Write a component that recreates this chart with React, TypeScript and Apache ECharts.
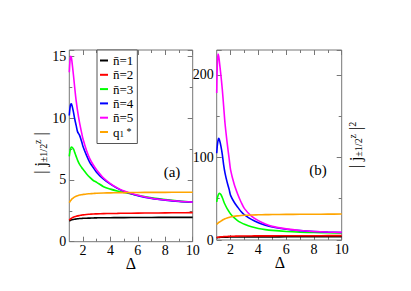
import React, { useEffect, useRef } from "react";
import * as echarts from "echarts";

const DELTA = [1, 1.05, 1.1, 1.15, 1.2, 1.3, 1.4, 1.5, 1.6, 1.75, 1.9, 2, 2.25, 2.5, 2.75, 3, 3.5, 4, 4.5, 5, 6, 7, 8, 9, 10];

const NAMES = ["n\u0304=1", "n\u0304=2", "n\u0304=3", "n\u0304=4", "n\u0304=5", "q1*"];
const COLORS = ["#000000", "#ff0000", "#00ff00", "#0000ff", "#ff00ff", "#ffa500"];

// panel (a): |j^z_{±1/2}|
const A_N1 = [1.68, 1.71, 1.74, 1.76, 1.78, 1.8, 1.82, 1.84, 1.85, 1.87, 1.88, 1.89, 1.9, 1.91, 1.92, 1.93, 1.94, 1.94, 1.95, 1.95, 1.96, 1.96, 1.97, 1.97, 1.97];
const A_N2 = [1.74, 1.8, 1.85, 1.89, 1.93, 1.98, 2.02, 2.06, 2.09, 2.12, 2.15, 2.17, 2.2, 2.22, 2.24, 2.25, 2.27, 2.28, 2.29, 2.3, 2.31, 2.32, 2.33, 2.34, 2.35];
const A_N3 = [6.9, 7.3, 7.55, 7.65, 7.65, 7.5, 7.2, 6.9, 6.6, 6.25, 6.0, 5.85, 5.5, 5.2, 4.95, 4.8, 4.45, 4.25, 4.1, 3.98, 3.75, 3.55, 3.4, 3.28, 3.2];
const A_N4 = [10.2, 10.8, 11.1, 11.15, 11.0, 10.5, 9.9, 9.4, 8.9, 8.6, 8.1, 7.7, 7.0, 6.4, 6.0, 5.6, 5.05, 4.65, 4.32, 4.05, 3.72, 3.5, 3.36, 3.26, 3.2];
const A_N5 = [13.7, 14.6, 15.0, 14.9, 14.5, 13.5, 12.4, 11.4, 10.6, 9.6, 8.8, 8.3, 7.4, 6.7, 6.2, 5.8, 5.15, 4.7, 4.35, 4.1, 3.75, 3.52, 3.37, 3.27, 3.2];
const A_Q1 = [3.15, 3.25, 3.33, 3.4, 3.46, 3.55, 3.62, 3.68, 3.72, 3.77, 3.8, 3.82, 3.86, 3.88, 3.9, 3.92, 3.94, 3.95, 3.96, 3.97, 3.98, 3.99, 3.99, 4.0, 4.0];

// panel (b): |j^z_{±1/2}|^2
const B_N1 = [2.8, 2.9, 3.0, 3.1, 3.15, 3.25, 3.3, 3.4, 3.45, 3.5, 3.55, 3.55, 3.6, 3.65, 3.7, 3.7, 3.75, 3.75, 3.8, 3.8, 3.85, 3.85, 3.9, 3.9, 3.9];
const B_N2 = [2.95, 3.15, 3.35, 3.5, 3.6, 3.8, 3.95, 4.1, 4.2, 4.3, 4.4, 4.5, 4.6, 4.7, 4.8, 4.85, 4.9, 5.0, 5.0, 5.05, 5.1, 5.15, 5.2, 5.25, 5.3];
const B_N3 = [46, 51, 54, 55.8, 56.4, 55, 51.5, 47, 43, 38, 34, 31.5, 27, 23.5, 21, 19, 16, 14, 12.6, 11.6, 10.3, 9.5, 9.0, 8.7, 8.5];
const B_N4 = [105, 115, 121, 123, 121, 114, 104, 91, 81, 70, 61, 54, 46, 40, 34.5, 30.5, 25, 21, 18, 15.8, 13, 11.3, 10.2, 9.5, 9.1];
const B_N5 = [178, 215, 225, 222, 215, 200, 183, 162, 141, 118, 98, 85, 68, 56, 46, 38, 29, 23.5, 19.5, 16.5, 13.5, 11.5, 10.3, 9.6, 9.2];
const B_Q1 = [19, 19.8, 20.5, 21.2, 21.8, 22.9, 23.9, 24.8, 25.6, 26.6, 27.4, 27.9, 28.7, 29.2, 29.6, 29.9, 30.3, 30.5, 30.7, 30.8, 31, 31.1, 31.2, 31.3, 31.4];

const X_MAJOR = [2, 4, 6, 8, 10];
const X_MINOR = [3, 5, 7, 9];

const FONT = "Liberation Serif";
const GRAY = "#777777";

const A_SERIES = [A_N1, A_N2, A_N3, A_N4, A_N5, A_Q1];
const B_SERIES = [B_N1, B_N2, B_N3, B_N4, B_N5, B_Q1];

function xAxesFor(g: number) {
  const base = {
    gridIndex: g,
    type: "value",
    min: 1,
    max: 10,
    axisLine: { show: false },
    splitLine: { show: false },
  };
  return [
    {
      ...base,
      position: "bottom",
      axisTick: { inside: true, length: 5, customValues: X_MAJOR, lineStyle: { color: GRAY } },
      axisLabel: { customValues: X_MAJOR, fontFamily: FONT, fontSize: 14, color: "#000", margin: 2 },
    },
    {
      ...base,
      position: "bottom",
      axisTick: { inside: true, length: 3, customValues: X_MINOR, lineStyle: { color: GRAY } },
      axisLabel: { show: false },
    },
    {
      ...base,
      position: "top",
      axisTick: { inside: true, length: 5, customValues: X_MAJOR, lineStyle: { color: GRAY } },
      axisLabel: { show: false },
    },
    {
      ...base,
      position: "top",
      axisTick: { inside: true, length: 3, customValues: X_MINOR, lineStyle: { color: GRAY } },
      axisLabel: { show: false },
    },
  ];
}

function yAxesFor(g: number, max: number, interval: number) {
  const base = {
    gridIndex: g,
    type: "value",
    min: 0,
    max,
    interval,
    axisLine: { show: false },
    splitLine: { show: false },
    axisTick: { inside: true, length: 5, lineStyle: { color: GRAY } },
    minorTick: { show: true, splitNumber: 2, length: 3, lineStyle: { color: GRAY } },
  };
  return [
    {
      ...base,
      position: "left",
      axisLabel: {
        fontFamily: FONT,
        fontSize: 14,
        color: "#000",
        margin: 3,
        showMaxLabel: false,
      },
    },
    { ...base, position: "right", axisLabel: { show: false } },
  ];
}

export default function App() {
  const ref = useRef<HTMLDivElement>(null);
  useEffect(() => {
    if (!ref.current) return;
    const chart = echarts.init(ref.current, undefined, { renderer: "svg" });
    const series: any[] = [];
    [A_SERIES, B_SERIES].forEach((set, g) => {
      set.forEach((vals, i) => {
        series.push({
          name: NAMES[i],
          type: "line",
          xAxisIndex: g * 4,
          yAxisIndex: g * 2,
          data: DELTA.map((d, k) => [d, vals[k]]),
          smooth: 0.3,
          symbol: "none",
          lineStyle: { color: COLORS[i], width: 1.6 },
          itemStyle: { color: COLORS[i] },
          z: 2 + i,
        });
      });
    });
    const rich = {
      sub: { fontSize: 10, fontFamily: FONT, verticalAlign: "bottom", padding: [6, 0, 0, 0] },
      sup: { fontSize: 10, fontFamily: FONT, verticalAlign: "top", padding: [0, 0, 6, 0] },
    };
    chart.setOption({
      animation: false,
      backgroundColor: "#ffffff",
      textStyle: { fontFamily: FONT },
      grid: [
        { left: 69.3, top: 50, width: 123.4, height: 191.7, show: true, borderColor: GRAY, borderWidth: 1, backgroundColor: "transparent" },
        { left: 216.7, top: 50, width: 125, height: 190, show: true, borderColor: GRAY, borderWidth: 1, backgroundColor: "transparent" },
      ],
      xAxis: [...xAxesFor(0), ...xAxesFor(1)],
      yAxis: [...yAxesFor(0, 15.5, 5), ...yAxesFor(1, 230, 100)],
      legend: {
        orient: "vertical",
        left: 97,
        top: 50,
        padding: [4, 4, 5, 3],
        itemGap: 1.3,
        itemWidth: 8,
        itemHeight: 2,
        icon: "rect",
        backgroundColor: "#ffffff",
        borderColor: "#555555",
        borderWidth: 1,
        data: NAMES,
        formatter: (name: string) => (name === "q1*" ? "q{sub|1}{sup| *}" : name),
        textStyle: {
          fontFamily: FONT,
          fontSize: 13,
          lineHeight: 12,
          color: "#000",
          rich: {
            sub: { fontSize: 9, fontFamily: FONT, verticalAlign: "bottom", lineHeight: 12 },
            sup: { fontSize: 10, fontFamily: FONT, verticalAlign: "top", lineHeight: 12 },
          },
        },
      },
      graphic: [
        {
          type: "text",
          x: 40,
          y: 153,
          rotation: Math.PI / 2,
          style: {
            text: "| j{sub|±1/2}{sup|z} |",
            fontFamily: FONT,
            fontSize: 16,
            fill: "#000",
            align: "center",
            verticalAlign: "middle",
            rich,
          },
        },
        {
          type: "text",
          x: 355,
          y: 145,
          rotation: Math.PI / 2,
          style: {
            text: "| j{sub|±1/2}{sup|z} |{sup|2}",
            fontFamily: FONT,
            fontSize: 16,
            fill: "#000",
            align: "center",
            verticalAlign: "middle",
            rich,
          },
        },
        { type: "text", x: 172, y: 172, style: { text: "(a)", fontFamily: FONT, fontSize: 15, fill: "#000", align: "center", verticalAlign: "middle" } },
        { type: "text", x: 318, y: 170, style: { text: "(b)", fontFamily: FONT, fontSize: 15, fill: "#000", align: "center", verticalAlign: "middle" } },
        { type: "text", x: 131, y: 263, style: { text: "Δ", fontFamily: FONT, fontSize: 16, fill: "#000", align: "center", verticalAlign: "middle" } },
        { type: "text", x: 280, y: 262, style: { text: "Δ", fontFamily: FONT, fontSize: 16, fill: "#000", align: "center", verticalAlign: "middle" } },
      ],
      series,
    });
    return () => chart.dispose();
  }, []);
  return <div ref={ref} style={{ position: "absolute", left: 0, top: 0, width: 411, height: 291 }} />;
}
